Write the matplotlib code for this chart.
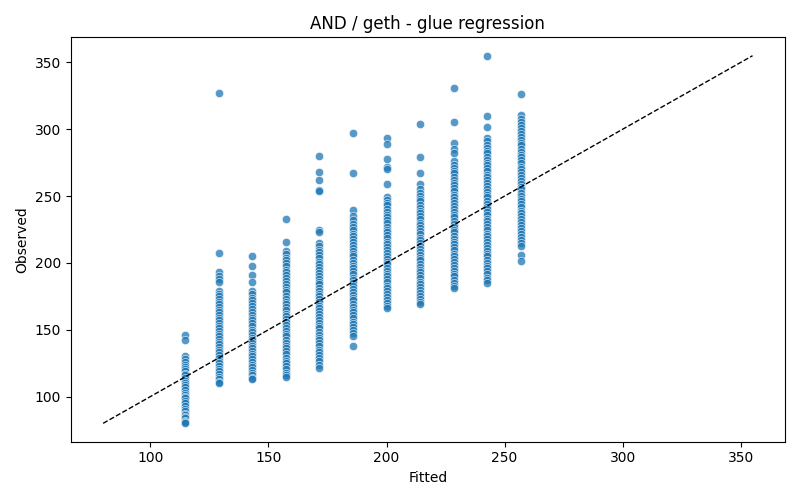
import numpy as np
import matplotlib
matplotlib.use("Agg")
import matplotlib.pyplot as plt

# fitted level of each column
fitted_levels = [114.8, 129.0, 143.2, 157.4, 171.6, 185.8, 200.0, 214.2, 228.4, 242.6, 256.8]

obs_c1 = [146.4, 142.7, 130, 128, 126, 124, 122.5, 121, 119, 117, 116, 114, 112, 110, 108.5, 107,
          105, 103, 101, 100, 99, 97, 95, 93, 91, 89, 87, 86, 85, 84, 82, 81, 80]
obs_c2 = [327, 207.5, 193, 190, 188, 186, 179, 177, 175, 173, 171, 169, 167, 165, 163, 161, 159,
          157, 155, 153, 151, 149, 147, 145, 143, 141, 139, 137, 135, 133, 131, 129, 127, 125,
          123, 121, 119, 117, 115, 113, 111, 110]
obs_c3 = [205.5, 197.5, 191.3, 185.8, 179, 176.5, 174, 172, 170, 168, 165.5, 163, 161, 159, 157,
          155, 152.5, 150, 148, 146, 144, 142, 140, 138, 136, 134, 132, 130, 128, 126, 124, 122,
          120, 118, 116, 114, 113]
obs_c4 = [232.5, 216, 209, 206.5, 204, 202, 200, 197.5, 195, 193, 191, 189, 186.5, 184, 182, 180,
          178, 175.5, 173, 171, 169, 167, 164.5, 162, 160, 158, 156, 153.5, 151, 149, 147, 145,
          142.5, 140, 138, 136, 134, 131.5, 129, 127, 125, 123, 120.5, 118, 116, 115]
obs_c5 = [279.9, 268.2, 261.7, 254.5, 253.5, 224.5, 223.5, 215, 212.5, 210, 208, 206, 203.5, 201,
          199, 197, 195, 192.5, 190, 188, 186, 184, 181.5, 179, 177, 175, 173, 170.5, 168, 166,
          164, 162, 159.5, 157, 155, 153, 151, 148.5, 146, 144, 142, 140, 137.5, 135, 133, 131,
          129, 126.5, 124, 121.5]
obs_c6 = [297, 267.4, 239.5, 235, 232, 229, 227, 224.5, 222, 220, 218, 216, 213.5, 211, 209, 207,
          205, 202.5, 200, 198, 196, 194, 191.5, 189, 187, 185, 183, 180.5, 178, 176, 174, 172,
          169.5, 167, 165, 163, 161, 158.5, 156, 154, 152, 150, 147.5, 145, 137.6]
obs_c7 = [293.6, 288.6, 277.4, 272, 270, 259.4, 249.5, 247, 245, 243, 240.5, 238, 236, 234, 232,
          229.5, 227, 225, 223, 221, 218.5, 216, 214, 212, 210, 207.5, 205, 203, 201, 199, 196.5,
          194, 192, 190, 188, 185.5, 183, 181, 179, 177, 174.5, 172, 170, 168, 166.4]
obs_c8 = [303.6, 279.4, 266.9, 258.7, 255, 252.5, 250, 248, 246, 243.5, 241, 239, 237, 235, 232.5,
          230, 228, 226, 224, 221.5, 219, 217, 215, 213, 210.5, 208, 206, 204, 202, 199.5, 197,
          195, 193, 191, 188.5, 186, 184, 182, 180, 177.5, 175, 173, 171, 169]
obs_c9 = [331, 305.6, 289.8, 285, 282, 276, 273.5, 271, 269, 267, 264.5, 262, 260, 258, 256, 253.5,
          251, 249, 247, 245, 242.5, 240, 238, 236, 234, 231.5, 229, 227, 225, 223, 220.5, 218,
          216, 214, 212, 209.5, 207, 205, 203, 201, 198.5, 196, 194, 192, 190, 187.5, 185, 183, 181]
obs_c10 = [355, 309.8, 301.9, 293.6, 291, 288.5, 286, 284, 282, 279.5, 277, 275, 273, 271, 268.5,
           266, 264, 262, 260, 257.5, 255, 253, 251, 249, 246.5, 244, 242, 240, 238, 235.5, 233,
           231, 229, 227, 224.5, 222, 220, 218, 216, 213.5, 211, 209, 207, 205, 202.5, 200, 198,
           196, 194, 191.5, 189, 187, 185]
obs_c11 = [326.4, 310.6, 308, 305.5, 303, 301, 299, 296.5, 294, 292, 290, 288, 285.5, 283, 281, 279,
           277, 274.5, 272, 270, 268, 266, 263.5, 261, 259, 257, 255, 252.5, 250, 248, 246, 244,
           241.5, 239, 237, 235, 233, 230.5, 228, 226, 224, 222, 219.5, 217, 215, 213, 206.3, 201.3]

observed = [obs_c1, obs_c2, obs_c3, obs_c4, obs_c5, obs_c6, obs_c7, obs_c8, obs_c9, obs_c10, obs_c11]
diag = [80, 355]

x = np.concatenate([[f] * len(o) for f, o in zip(fitted_levels, observed)])
y = np.concatenate(observed)

fig, ax = plt.subplots(figsize=(8, 5), dpi=100)
ax.scatter(x, y, s=36, color='#1f77b4', alpha=0.75, edgecolor='white', linewidth=0.5)
ax.plot(diag, diag, 'k--', linewidth=1)
ax.set_title('AND / geth - glue regression')
ax.set_xlabel('Fitted')
ax.set_ylabel('Observed')
plt.tight_layout()
plt.savefig('out.png', dpi=100)
